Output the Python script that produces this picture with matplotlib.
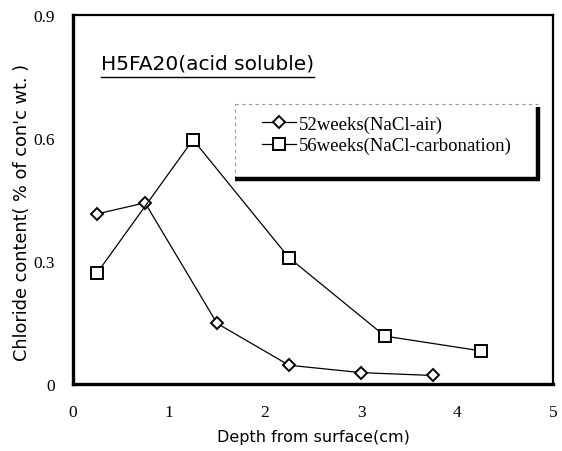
import matplotlib.pyplot as plt

# depth (cm) and chloride content (% of concrete weight)
depth_air = [0.25, 0.75, 1.5, 2.25, 3.0, 3.75]
cl_air = [0.415, 0.442, 0.148, 0.046, 0.028, 0.021]

depth_carb = [0.25, 1.25, 2.25, 3.25, 4.25]
cl_carb = [0.271, 0.596, 0.308, 0.117, 0.081]

xticks = [0, 1, 2, 3, 4, 5]
yticks = [0, 0.3, 0.6, 0.9]
ytick_labels = ["0", "0.3", "0.6", "0.9"]

fig = plt.figure(figsize=(5.62, 4.52), dpi=100)
ax = fig.add_axes([0.130, 0.148, 0.854, 0.8166])

ax.plot(depth_air, cl_air, color="black", lw=0.9, marker="D", ms=6.5,
        mfc="white", mec="black", mew=1.4, label="52weeks(NaCl-air)")
ax.plot(depth_carb, cl_carb, color="black", lw=0.9, marker="s", ms=8,
        mfc="white", mec="black", mew=1.4, label="56weeks(NaCl-carbonation)")

ax.set_xlim(0, 5)
ax.set_ylim(0, 0.9)
ax.set_xticks(xticks)
ax.set_yticks(yticks)
ax.set_yticklabels(ytick_labels)
ax.tick_params(axis="x", length=0, pad=14, labelsize=12.5)
ax.tick_params(axis="y", length=0, pad=13, labelsize=12.5)
for lbl in ax.get_xticklabels() + ax.get_yticklabels():
    lbl.set_fontfamily("Liberation Serif")

# heavier left/bottom spines
ax.spines["left"].set_linewidth(2.4)
ax.spines["bottom"].set_linewidth(2.4)
ax.spines["top"].set_linewidth(1.6)
ax.spines["right"].set_linewidth(1.6)

ax.set_xlabel("Depth from surface(cm)", fontsize=11.5, labelpad=7)
ax.set_ylabel("Chloride content( % of con'c wt. )", fontsize=12.8)
ax.yaxis.set_label_coords(-0.087, 0.469)

ax.text(0.058, 0.87, "H5FA20(acid soluble)", transform=ax.transAxes,
        fontsize=14.5, va="center", ha="left")
ax.plot([0.058, 0.503], [0.833, 0.833], transform=ax.transAxes,
        color="black", lw=1.0)

# legend box: faint dashed top/left, heavy right/bottom edges
bx0, bx1, by0, by1 = 0.3375, 0.968, 0.555, 0.759
ax.plot([bx0, bx1], [by1, by1], transform=ax.transAxes, color="#999999",
        lw=0.8, ls=(0, (3, 3)), zorder=4)
ax.plot([bx0, bx0], [by0, by1], transform=ax.transAxes, color="#999999",
        lw=0.8, ls=(0, (3, 3)), zorder=4)
ax.plot([bx0, bx1 + 0.004], [by0, by0], transform=ax.transAxes,
        color="black", lw=3.2, solid_capstyle="butt", zorder=4)
ax.plot([bx1, bx1], [by0, by1 - 0.008], transform=ax.transAxes,
        color="black", lw=3.2, solid_capstyle="butt", zorder=4)

leg = ax.legend(loc="upper left", bbox_to_anchor=(0.394, 0.727),
                prop={"family": "Liberation Serif", "size": 13.5},
                frameon=False, borderpad=0, borderaxespad=0,
                handlelength=1.8, handletextpad=0.15, labelspacing=0.2)

fig.savefig("out.png", dpi=100)
